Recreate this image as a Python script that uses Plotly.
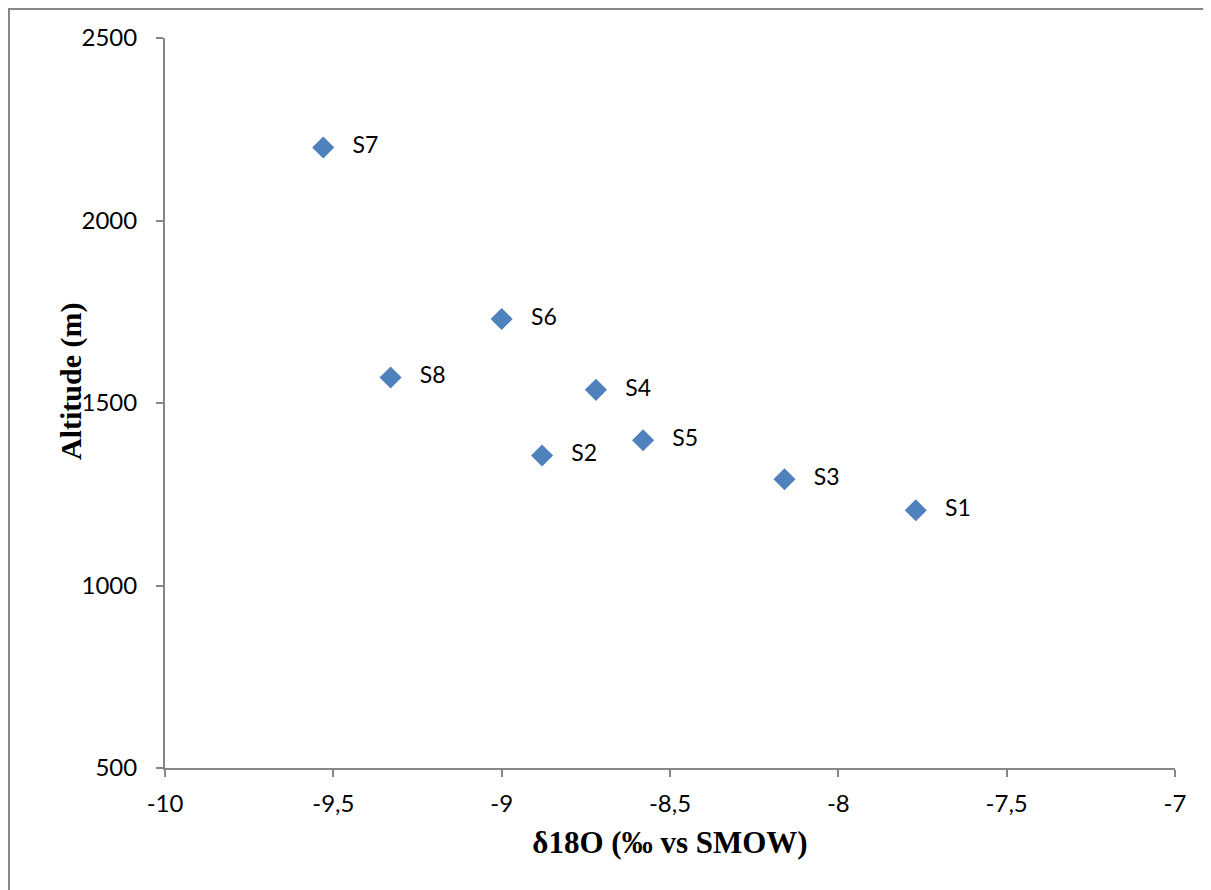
import plotly.graph_objects as go

labels = ["S1", "S2", "S3", "S4", "S5", "S6", "S7", "S8"]
d18o = [-7.77, -8.88, -8.16, -8.72, -8.58, -9.00, -9.53, -9.33]
altitude = [1206, 1356, 1291, 1536, 1398, 1730, 2200, 1570]

x_ticks = [-10, -9.5, -9, -8.5, -8, -7.5, -7]
x_ticktext = ["-10", "-9,5", "-9", "-8,5", "-8", "-7,5", "-7"]
y_ticks = [500, 1000, 1500, 2000, 2500]

fig = go.Figure()
fig.add_trace(go.Scatter(
    x=d18o, y=altitude, mode="markers+text",
    text=["   " + s for s in labels], textposition="middle right",
    textfont=dict(family="Lato", size=23, color="#000000"),
    marker=dict(symbol="diamond", size=17, color="#4F81BD", line=dict(width=0)),
    showlegend=False, cliponaxis=False,
))

axis_common = dict(
    showgrid=False, zeroline=False, showline=True, linecolor="#868686", linewidth=2,
    ticks="outside", ticklen=7, tickwidth=2, tickcolor="#868686",
    tickfont=dict(family="Lato", size=24, color="#000000"),
)
fig.update_xaxes(range=[-10, -7], tickvals=x_ticks, ticktext=x_ticktext,
                 title=dict(text="δ18O (‰ vs SMOW)", standoff=16,
                            font=dict(family="Liberation Serif", size=31, color="#000000", weight="bold")),
                 ticklabelstandoff=6, **axis_common)
fig.update_yaxes(range=[500, 2500], tickvals=y_ticks, ticklabelstandoff=14, **axis_common)

fig.add_annotation(
    text="Altitude (m)", textangle=-90, xref="paper", yref="paper",
    x=(71 - 165) / 1010, y=(768 - 382) / 730, xanchor="center", yanchor="middle",
    showarrow=False,
    font=dict(family="Liberation Serif", size=30, color="#000000", weight="bold"),
)

frame = dict(color="#868686", width=4)
fig.add_shape(type="line", xref="paper", yref="paper",
              x0=-157 / 1010, x1=1.2, y0=1 + 30 / 730, y1=1 + 30 / 730, line=frame, layer="below")
fig.add_shape(type="line", xref="paper", yref="paper",
              x0=-157 / 1010, x1=-157 / 1010, y0=-0.3, y1=1 + 30 / 730, line=frame, layer="below")

fig.update_layout(
    width=1203, height=882,
    margin=dict(l=157, r=36, t=30, b=122),
    plot_bgcolor="white", paper_bgcolor="white",
)
fig.write_html("out.html")
